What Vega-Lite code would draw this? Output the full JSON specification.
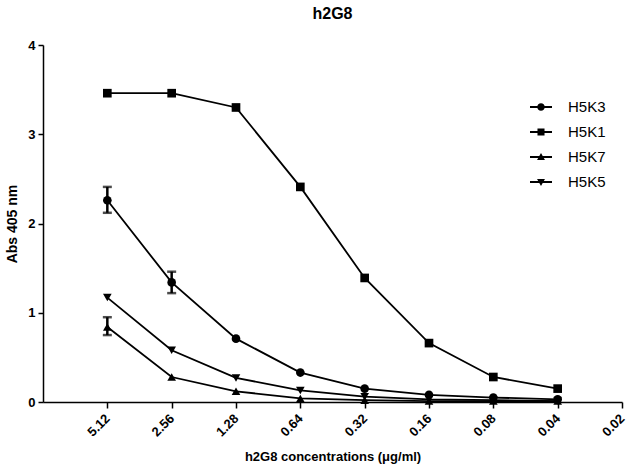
{
  "$schema": "https://vega.github.io/schema/vega-lite/v6.json",
  "width": 579,
  "height": 357,
  "autosize": {"type": "none"},
  "padding": {"left": 43, "top": 45, "right": 7, "bottom": 62},
  "background": "white",
  "config": {
    "view": {"stroke": null},
    "font": "Liberation Sans",
    "axis": {"grid": false, "domainColor": "black", "tickColor": "black", "labelColor": "black", "titleColor": "black", "domainWidth": 1.5, "tickWidth": 1.5, "labelFont": "Liberation Sans", "titleFont": "Liberation Sans", "labelFontWeight": "bold", "titleFontWeight": "bold"}
  },
  "title": {"text": "h2G8", "fontSize": 16, "fontWeight": "bold", "font": "Liberation Sans", "color": "black", "anchor": "middle", "offset": 17},
  "data": {
    "values": [
      {"series": "H5K3", "i": 1, "y": 2.26, "lo": 2.12, "hi": 2.41},
      {"series": "H5K3", "i": 2, "y": 1.34, "lo": 1.22, "hi": 1.46},
      {"series": "H5K3", "i": 3, "y": 0.71},
      {"series": "H5K3", "i": 4, "y": 0.33},
      {"series": "H5K3", "i": 5, "y": 0.15},
      {"series": "H5K3", "i": 6, "y": 0.08},
      {"series": "H5K3", "i": 7, "y": 0.05},
      {"series": "H5K3", "i": 8, "y": 0.03},
      {"series": "H5K1", "i": 1, "y": 3.46},
      {"series": "H5K1", "i": 2, "y": 3.46},
      {"series": "H5K1", "i": 3, "y": 3.30},
      {"series": "H5K1", "i": 4, "y": 2.41},
      {"series": "H5K1", "i": 5, "y": 1.39},
      {"series": "H5K1", "i": 6, "y": 0.66},
      {"series": "H5K1", "i": 7, "y": 0.28},
      {"series": "H5K1", "i": 8, "y": 0.15},
      {"series": "H5K7", "i": 1, "y": 0.84, "lo": 0.75, "hi": 0.95},
      {"series": "H5K7", "i": 2, "y": 0.28},
      {"series": "H5K7", "i": 3, "y": 0.12},
      {"series": "H5K7", "i": 4, "y": 0.04},
      {"series": "H5K7", "i": 5, "y": 0.02},
      {"series": "H5K7", "i": 6, "y": 0.01},
      {"series": "H5K7", "i": 7, "y": 0.01},
      {"series": "H5K7", "i": 8, "y": 0.01},
      {"series": "H5K5", "i": 1, "y": 1.17},
      {"series": "H5K5", "i": 2, "y": 0.58},
      {"series": "H5K5", "i": 3, "y": 0.27},
      {"series": "H5K5", "i": 4, "y": 0.13},
      {"series": "H5K5", "i": 5, "y": 0.06},
      {"series": "H5K5", "i": 6, "y": 0.03},
      {"series": "H5K5", "i": 7, "y": 0.02},
      {"series": "H5K5", "i": 8, "y": 0.01}
    ]
  },
  "encoding": {
    "x": {
      "field": "i", "type": "quantitative",
      "scale": {"domain": [0, 9], "nice": false, "zero": false},
      "axis": {
        "title": "h2G8 concentrations (\u03bcg/ml)",
        "titleFontSize": 13,
        "titlePadding": 12,
        "values": [1, 2, 3, 4, 5, 6, 7, 8, 9],
        "labelExpr": "['','5.12','2.56','1.28','0.64','0.32','0.16','0.08','0.04','0.02'][datum.value]",
        "labelAngle": -45,
        "labelAlign": "right",
        "labelBaseline": "middle",
        "labelFontSize": 13,
        "tickSize": 6,
        "labelPadding": 8
      }
    },
    "y": {
      "field": "y", "type": "quantitative",
      "scale": {"domain": [0, 4], "nice": false},
      "axis": {
        "title": "Abs 405 nm",
        "titleFontSize": 14,
        "titlePadding": 8,
        "values": [0, 1, 2, 3, 4],
        "format": "d",
        "labelFontSize": 13,
        "tickSize": 5,
        "labelPadding": 3
      }
    }
  },
  "layer": [
    {
      "mark": {"type": "line", "color": "black", "strokeWidth": 1.8},
      "encoding": {"detail": {"field": "series"}, "order": {"field": "i"}}
    },
    {
      "transform": [{"filter": "isValid(datum.lo)"}],
      "mark": {"type": "errorbar", "ticks": {"size": 9, "thickness": 2.5, "color": "black"}, "rule": {"strokeWidth": 2.5, "color": "black"}},
      "encoding": {
        "y": {"field": "lo", "type": "quantitative", "title": "Abs 405 nm"},
        "y2": {"field": "hi"}
      }
    },
    {
      "mark": {"type": "point", "filled": true, "opacity": 1, "color": "black"},
      "encoding": {
        "shape": {
          "field": "series", "type": "nominal",
          "scale": {"domain": ["H5K3", "H5K1", "H5K7", "H5K5"], "range": ["circle", "square", "triangle-up", "triangle-down"]},
          "legend": null
        },
        "size": {"value": 75}
      }
    },
    {
      "mark": {"type": "point", "filled": true, "opacity": 0, "color": "black"},
      "encoding": {
        "shape": {
          "field": "series", "type": "nominal",
          "scale": {"domain": ["H5K3", "H5K1", "H5K7", "H5K5"], "range": [
            "M-1,-0.08H1V0.08H-1ZM0.34,0A0.34,0.34 0 1,1 -0.34,0A0.34,0.34 0 1,1 0.34,0Z",
            "M-1,-0.08H1V0.08H-1ZM-0.32,-0.32H0.32V0.32H-0.32Z",
            "M-1,-0.08H1V0.08H-1ZM0,-0.36L0.36,0.28H-0.36Z",
            "M-1,-0.08H1V0.08H-1ZM0,0.36L-0.36,-0.28H0.36Z"
          ]},
          "legend": {
            "title": null,
            "orient": "none",
            "legendX": 487,
            "legendY": 51,
            "labelFontSize": 15,
            "labelFont": "Liberation Sans",
            "labelColor": "black",
            "labelOffset": 16,
            "rowPadding": 6,
            "symbolSize": 484,
            "symbolOpacity": 1,
            "symbolFillColor": "black",
            "symbolStrokeColor": "black",
            "symbolStrokeWidth": 0
          }
        },
        "size": {"value": 75}
      }
    }
  ],
  "resolve": {"scale": {"shape": "independent"}}
}
